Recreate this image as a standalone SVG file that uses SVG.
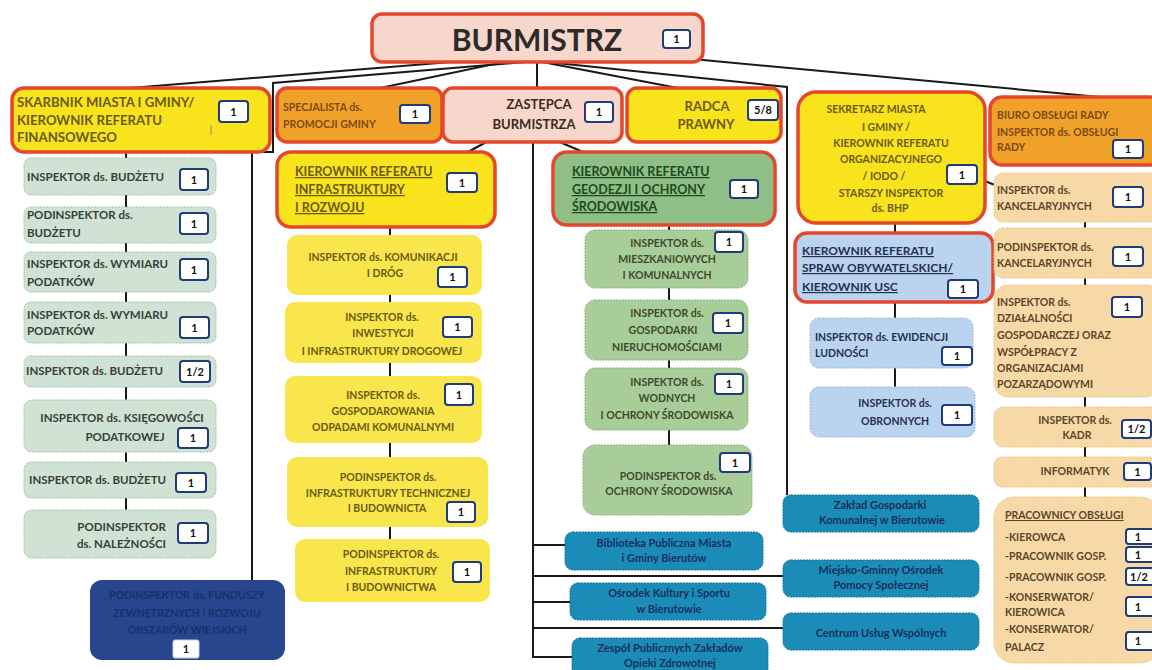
<svg xmlns="http://www.w3.org/2000/svg" width="1152" height="670" viewBox="0 0 1152 670">
<style>
text{font-family:Lato,"Liberation Sans",sans-serif;font-weight:700;font-size:11.5px}
.c{text-anchor:middle}
.e{text-anchor:end}
.u{text-decoration:underline}
.soft{stroke-width:1;stroke-dasharray:2 1}
.pink{fill:#f7d6cc}
.yel{fill:#f9e31c}
.yelc{fill:#f9e64c}
.org{fill:#f0a12a}
.g1{fill:#cfe2d4;stroke:#a9c4b0}
.g2{fill:#8fbf86}
.g3{fill:#a9cd98;stroke:#8fb27e}
.lb{fill:#bad4f0;stroke:#9fbde0}
.tan{fill:#f7d9a7;stroke:#ecc78a}
.teal{fill:#1b8bb7;stroke:#13769e}
.navy{fill:#27468e}
rect.red{stroke:#e4472b;stroke-width:3.5;stroke-dasharray:none}
.t-y{fill:#6b5a14}
.t-g{fill:#3a3f3a}
.t-gd{fill:#1d4a1d}
.t-g3{fill:#3d4a2d}
.t-b{fill:#27304f}
.t-o{fill:#7b4a12}
.t-t{fill:#5a4628}
.t-teal{fill:#17305e;font-size:11px}
.t-nv{fill:#1a2f6b}
.bx{fill:#fff;stroke:#1f3b7a;stroke-width:2}
.bt{fill:#111;text-anchor:middle;font-size:11px}
.ln{stroke:#1a1a1a;stroke-width:2;fill:none}
</style>
<rect width="1152" height="670" fill="#fff"/>
<g id="connectors">
<path class="ln" d="M537 55 L130 88"/>
<path class="ln" d="M537 61 L273 83 L273 152 L252 152 L252 580"/>
<path class="ln" d="M537 55 L380 88"/>
<path class="ln" d="M537 55 L537 88"/>
<path class="ln" d="M537 61 L683 89"/>
<path class="ln" d="M537 61 L787 87 L787 495"/>
<path class="ln" d="M650 55 L1100 97"/>
<path class="ln" d="M490 140 L468 152"/>
<path class="ln" d="M555 140 L583 152"/>
<path class="ln" d="M533 142 L533 657 L572 657"/>
<path class="ln" d="M533 545 L566 545"/>
<path class="ln" d="M533 576 L783 576"/>
<path class="ln" d="M533 602 L570 602"/>
<path class="ln" d="M533 628 L783 628"/>
<path class="ln" d="M126 152 L126 510"/>
<path class="ln" d="M390 227 L390 539"/>
<path class="ln" d="M669 225 L669 445"/>
<path class="ln" d="M895 223 L895 387"/>
<path class="ln" d="M985 181 L997 186"/>
<path class="ln" d="M1085 222 L1085 497"/>
</g>
<g id="burmistrz">
<rect x="372" y="14" width="331" height="48" rx="10" class="pink red"/>
<text x="537" y="51" class="c" style="font-size:30px;fill:#2b2b2b">BURMISTRZ</text>
<rect x="663" y="30" width="27" height="18" rx="3" class="bx"/><text x="676.5" y="43" class="bt">1</text>
</g>
<g id="skarbnik">
<rect x="12" y="88" width="258" height="64" rx="12" class="yel red"/>
<text x="17" y="107" class="t-y" style="font-size:13.2px">SKARBNIK MIASTA I GMINY/</text>
<text x="17" y="125" class="t-y" style="font-size:13.2px">KIEROWNIK REFERATU</text>
<text x="17" y="142" class="t-y" style="font-size:13.2px">FINANSOWEGO</text>
<line x1="211" y1="125" x2="211" y2="135" stroke="#888" stroke-width="1"/>
<rect x="219" y="101" width="29" height="21" rx="3" class="bx"/><text x="233.5" y="116" class="bt">1</text>
</g>
<g id="l1">
<rect x="24" y="158" width="192" height="37" rx="7" class="g1 soft"/>
<text x="27" y="181" class="t-g">INSPEKTOR ds. BUDŻETU</text>
<rect x="180" y="169" width="28" height="21" rx="3" class="bx"/><text x="194" y="184" class="bt">1</text>
</g>
<g id="l2">
<rect x="24" y="207" width="192" height="36" rx="7" class="g1 soft"/>
<text x="27" y="219" class="t-g">PODINSPEKTOR ds.</text>
<text x="27" y="237" class="t-g">BUDŻETU</text>
<rect x="180" y="213" width="28" height="21" rx="3" class="bx"/><text x="194" y="228" class="bt">1</text>
</g>
<g id="l3">
<rect x="24" y="252" width="192" height="40" rx="7" class="g1 soft"/>
<text x="27" y="268" class="t-g">INSPEKTOR ds. WYMIARU</text>
<text x="27" y="286" class="t-g">PODATKÓW</text>
<rect x="180" y="259" width="28" height="21" rx="3" class="bx"/><text x="194" y="274" class="bt">1</text>
</g>
<g id="l4">
<rect x="24" y="302" width="192" height="41" rx="7" class="g1 soft"/>
<text x="27" y="319" class="t-g">INSPEKTOR ds. WYMIARU</text>
<text x="27" y="335" class="t-g">PODATKÓW</text>
<rect x="180" y="317" width="29" height="21" rx="3" class="bx"/><text x="194.5" y="332" class="bt">1</text>
</g>
<g id="l5">
<rect x="24" y="356" width="192" height="31" rx="7" class="g1 soft"/>
<text x="26" y="375" class="t-g">INSPEKTOR ds. BUDŻETU</text>
<rect x="180" y="361" width="30" height="21" rx="3" class="bx"/><text x="195" y="376" class="bt">1/2</text>
</g>
<g id="l6">
<rect x="24" y="400" width="192" height="52" rx="8" class="g1 soft"/>
<text x="122" y="422" class="c t-g">INSPEKTOR ds. KSIĘGOWOŚCI</text>
<text x="125" y="441" class="c t-g">PODATKOWEJ</text>
<rect x="178" y="428" width="30" height="20" rx="3" class="bx"/><text x="193" y="442" class="bt">1</text>
</g>
<g id="l7">
<rect x="24" y="462" width="192" height="36" rx="7" class="g1 soft"/>
<text x="29" y="484" class="t-g">INSPEKTOR ds. BUDŻETU</text>
<rect x="176" y="473" width="30" height="19" rx="3" class="bx"/><text x="191" y="487" class="bt">1</text>
</g>
<g id="l8">
<rect x="24" y="510" width="192" height="48" rx="8" class="g1 soft"/>
<text x="166" y="531" class="e t-g">PODINSPEKTOR</text>
<text x="166" y="548" class="e t-g">ds. NALEŻNOŚCI</text>
<rect x="178" y="523" width="30" height="20" rx="3" class="bx"/><text x="193" y="537" class="bt">1</text>
</g>
<g id="fundusze">
<rect x="90" y="580" width="195" height="80" rx="12" class="navy"/>
<text x="187" y="599" class="c t-nv" style="font-size:10.5px">PODINSPEKTOR ds. FUNDUSZY</text>
<text x="187" y="617" class="c t-nv" style="font-size:10.5px">ZEWNĘTRZNYCH I ROZWOJU</text>
<text x="187" y="634" class="c t-nv" style="font-size:10.5px">OBSZARÓW WIEJSKICH</text>
<rect x="173" y="640" width="26" height="18" rx="2" fill="#fff" stroke="#c8cfe0" stroke-width="1"/><text x="186" y="653" class="bt">1</text>
</g>
<g id="specjalista">
<rect x="277" y="88" width="165" height="54" rx="10" class="org red"/>
<text x="283" y="111" class="t-o" style="font-size:10.5px">SPECJALISTA ds.</text>
<text x="283" y="128" class="t-o" style="font-size:10.5px">PROMOCJI GMINY</text>
<rect x="400" y="105" width="30" height="18" rx="3" class="bx"/><text x="415" y="118" class="bt">1</text>
</g>
<g id="zastepca">
<rect x="443" y="88" width="179" height="54" rx="10" class="pink red"/>
<text x="539" y="109" class="c" style="font-size:13px;fill:#3a2a22">ZASTĘPCA</text>
<text x="534" y="129" class="c" style="font-size:13px;fill:#3a2a22">BURMISTRZA</text>
<rect x="585" y="102" width="28" height="20" rx="3" class="bx"/><text x="599" y="116" class="bt">1</text>
</g>
<g id="radca">
<rect x="627" y="88" width="154" height="54" rx="10" class="yel red"/>
<text x="707" y="111" class="c t-y" style="font-size:13px">RADCA</text>
<text x="706" y="129" class="c t-y" style="font-size:13px">PRAWNY</text>
<rect x="748" y="100" width="30" height="20" rx="3" class="bx"/><text x="763" y="114" class="bt">5/8</text>
</g>
<g id="kier-infra">
<rect x="277" y="152" width="218" height="75" rx="14" class="yel red"/>
<text x="295" y="176" class="u t-y" style="font-size:12.5px">KIEROWNIK REFERATU</text>
<text x="295" y="194" class="u t-y" style="font-size:12.5px">INFRASTRUKTURY</text>
<text x="295" y="212" class="u t-y" style="font-size:12.5px">I ROZWOJU</text>
<rect x="447" y="173" width="30" height="19" rx="3" class="bx"/><text x="462" y="187" class="bt">1</text>
</g>
<g id="i1">
<rect x="287" y="235" width="195" height="60" rx="10" class="yelc"/>
<text x="383" y="261" class="c t-y" style="font-size:10.5px">INSPEKTOR ds. KOMUNIKACJI</text>
<text x="385" y="277" class="c t-y" style="font-size:10.5px">I DRÓG</text>
<rect x="438" y="267" width="29" height="20" rx="3" class="bx"/><text x="452.5" y="281" class="bt">1</text>
</g>
<g id="i2">
<rect x="285" y="302" width="197" height="61" rx="10" class="yelc"/>
<text x="382" y="321" class="c t-y" style="font-size:10.5px">INSPEKTOR ds.</text>
<text x="383" y="337" class="c t-y" style="font-size:10.5px">INWESTYCJI</text>
<text x="382" y="355" class="c t-y" style="font-size:10.5px">I INFRASTRUKTURY DROGOWEJ</text>
<rect x="443" y="317" width="29" height="20" rx="3" class="bx"/><text x="457.5" y="331" class="bt">1</text>
</g>
<g id="i3">
<rect x="285" y="376" width="197" height="67" rx="10" class="yelc"/>
<text x="383" y="399" class="c t-y" style="font-size:10.5px">INSPEKTOR ds.</text>
<text x="383" y="415" class="c t-y" style="font-size:10.5px">GOSPODAROWANIA</text>
<text x="383" y="431" class="c t-y" style="font-size:10.5px">ODPADAMI KOMUNALNYMI</text>
<rect x="445" y="384" width="28" height="21" rx="3" class="bx"/><text x="459" y="399" class="bt">1</text>
</g>
<g id="i4">
<rect x="287" y="457" width="201" height="70" rx="10" class="yelc"/>
<text x="388" y="481" class="c t-y" style="font-size:10.5px">PODINSPEKTOR ds.</text>
<text x="388" y="497" class="c t-y" style="font-size:10.5px">INFRASTRUKTURY TECHNICZNEJ</text>
<text x="387" y="512" class="c t-y" style="font-size:10.5px">I BUDOWNICTA</text>
<rect x="447" y="502" width="28" height="20" rx="3" class="bx"/><text x="461" y="516" class="bt">1</text>
</g>
<g id="i5">
<rect x="295" y="539" width="195" height="63" rx="10" class="yelc"/>
<text x="391" y="558" class="c t-y" style="font-size:10.5px">PODINSPEKTOR ds.</text>
<text x="391" y="575" class="c t-y" style="font-size:10.5px">INFRASTRUKTURY</text>
<text x="391" y="591" class="c t-y" style="font-size:10.5px">I BUDOWNICTWA</text>
<rect x="453" y="562" width="28" height="20" rx="3" class="bx"/><text x="467" y="576" class="bt">1</text>
</g>
<g id="kier-geo">
<rect x="553" y="152" width="222" height="73" rx="14" class="g2 red"/>
<text x="572" y="176" class="u t-gd" style="font-size:12.5px">KIEROWNIK REFERATU</text>
<text x="572" y="194" class="u t-gd" style="font-size:12.5px">GEODEZJI I OCHRONY</text>
<text x="572" y="211" class="u t-gd" style="font-size:12.5px">ŚRODOWISKA</text>
<rect x="730" y="180" width="28" height="18" rx="3" class="bx"/><text x="744" y="193" class="bt">1</text>
</g>
<g id="g1">
<rect x="585" y="230" width="163" height="58" rx="10" class="g3 soft"/>
<text x="667" y="247" class="c t-g3" style="font-size:10.5px">INSPEKTOR ds.</text>
<text x="667" y="263" class="c t-g3" style="font-size:10.5px">MIESZKANIOWYCH</text>
<text x="667" y="279" class="c t-g3" style="font-size:10.5px">I KOMUNALNYCH</text>
<rect x="715" y="232" width="28" height="20" rx="3" class="bx"/><text x="729" y="246" class="bt">1</text>
</g>
<g id="g2">
<rect x="585" y="300" width="163" height="60" rx="10" class="g3 soft"/>
<text x="667" y="317" class="c t-g3" style="font-size:10.5px">INSPEKTOR ds.</text>
<text x="663" y="334" class="c t-g3" style="font-size:10.5px">GOSPODARKI</text>
<text x="667" y="351" class="c t-g3" style="font-size:10.5px">NIERUCHOMOŚCIAMI</text>
<rect x="713" y="313" width="30" height="20" rx="3" class="bx"/><text x="728" y="327" class="bt">1</text>
</g>
<g id="g3n">
<rect x="585" y="368" width="163" height="62" rx="10" class="g3 soft"/>
<text x="667" y="386" class="c t-g3" style="font-size:10.5px">INSPEKTOR ds.</text>
<text x="667" y="402" class="c t-g3" style="font-size:10.5px">WODNYCH</text>
<text x="667" y="419" class="c t-g3" style="font-size:10.5px">I OCHRONY ŚRODOWISKA</text>
<rect x="715" y="374" width="28" height="20" rx="3" class="bx"/><text x="729" y="388" class="bt">1</text>
</g>
<g id="g4">
<rect x="583" y="445" width="169" height="70" rx="12" class="g3 soft"/>
<text x="668" y="480" class="c t-g3" style="font-size:10.5px">PODINSPEKTOR ds.</text>
<text x="669" y="495" class="c t-g3" style="font-size:10.5px">OCHRONY ŚRODOWISKA</text>
<rect x="720" y="453" width="30" height="19" rx="3" class="bx"/><text x="735" y="467" class="bt">1</text>
</g>
<g id="biblioteka">
<rect x="565" y="532" width="198" height="38" rx="8" class="teal soft"/>
<text x="664" y="547" class="c t-teal">Biblioteka Publiczna Miasta</text>
<text x="664" y="562" class="c t-teal">i Gminy Bierutów</text>
</g>
<g id="osrodek">
<rect x="570" y="583" width="196" height="37" rx="8" class="teal soft"/>
<text x="669" y="597" class="c t-teal">Ośrodek Kultury i Sportu</text>
<text x="669" y="613" class="c t-teal">w Bierutowie</text>
</g>
<g id="zespol">
<rect x="572" y="638" width="196" height="40" rx="8" class="teal soft"/>
<text x="670" y="652" class="c t-teal">Zespół Publicznych Zakładów</text>
<text x="670" y="667" class="c t-teal">Opieki Zdrowotnej</text>
</g>
<g id="zaklad">
<rect x="783" y="495" width="196" height="37" rx="8" class="teal soft"/>
<text x="880" y="509" class="c t-teal">Zakład Gospodarki</text>
<text x="882" y="524" class="c t-teal">Komunalnej w Bierutowie</text>
</g>
<g id="mgops">
<rect x="783" y="560" width="196" height="37" rx="8" class="teal soft"/>
<text x="881" y="574" class="c t-teal">Miejsko-Gminny Ośrodek</text>
<text x="881" y="589" class="c t-teal">Pomocy Społecznej</text>
</g>
<g id="centrum">
<rect x="783" y="613" width="196" height="37" rx="8" class="teal soft"/>
<text x="881" y="637" class="c t-teal">Centrum Usług Wspólnych</text>
</g>
<g id="sekretarz">
<rect x="798" y="92" width="187" height="131" rx="18" class="yel red"/>
<text x="876" y="113" class="c t-y" style="font-size:10.5px">SEKRETARZ MIASTA</text>
<text x="886" y="131" class="c t-y" style="font-size:10.5px">I GMINY /</text>
<text x="891" y="147" class="c t-y" style="font-size:10.5px">KIEROWNIK REFERATU</text>
<text x="891" y="163" class="c t-y" style="font-size:10.5px">ORGANIZACYJNEGO</text>
<text x="884" y="180" class="c t-y" style="font-size:10.5px">/ IODO /</text>
<text x="891" y="197" class="c t-y" style="font-size:10.5px">STARSZY INSPEKTOR</text>
<text x="890" y="212" class="c t-y" style="font-size:10.5px">ds. BHP</text>
<rect x="947" y="165" width="30" height="19" rx="3" class="bx"/><text x="962" y="179" class="bt">1</text>
</g>
<g id="kier-usc">
<rect x="795" y="233" width="198" height="69" rx="12" class="lb red"/>
<text x="802" y="255" class="u t-b" style="font-size:12px">KIEROWNIK REFERATU</text>
<text x="802" y="272" class="u t-b" style="font-size:12px">SPRAW OBYWATELSKICH/</text>
<text x="802" y="291" class="u t-b" style="font-size:12px">KIEROWNIK USC</text>
<rect x="948" y="280" width="30" height="18" rx="3" class="bx"/><text x="963" y="293" class="bt">1</text>
</g>
<g id="ewidencja">
<rect x="810" y="318" width="163" height="50" rx="9" class="lb soft"/>
<text x="815" y="341" class="t-b" style="font-size:10.5px">INSPEKTOR ds. EWIDENCJI</text>
<text x="815" y="357" class="t-b" style="font-size:10.5px">LUDNOŚCI</text>
<rect x="942" y="347" width="30" height="18" rx="3" class="bx"/><text x="957" y="360" class="bt">1</text>
</g>
<g id="obronne">
<rect x="810" y="387" width="165" height="50" rx="9" class="lb soft"/>
<text x="895" y="407" class="c t-b" style="font-size:10.5px">INSPEKTOR ds.</text>
<text x="895" y="425" class="c t-b" style="font-size:10.5px">OBRONNYCH</text>
<rect x="942" y="405" width="30" height="20" rx="3" class="bx"/><text x="957" y="419" class="bt">1</text>
</g>
<g id="biuro-rady">
<rect x="990" y="97" width="172" height="68" rx="12" class="org red"/>
<text x="997" y="119" class="t-o" style="font-size:10.5px">BIURO OBSŁUGI RADY</text>
<text x="997" y="136" class="t-o" style="font-size:10.5px">INSPEKTOR ds. OBSŁUGI</text>
<text x="997" y="151" class="t-o" style="font-size:10.5px">RADY</text>
<rect x="1113" y="140" width="30" height="18" rx="3" class="bx"/><text x="1128" y="153" class="bt">1</text>
</g>
<g id="kancel">
<rect x="994" y="173" width="166" height="49" rx="9" class="tan soft"/>
<text x="997" y="194" class="t-t" style="font-size:10.5px">INSPEKTOR ds.</text>
<text x="997" y="210" class="t-t" style="font-size:10.5px">KANCELARYJNYCH</text>
<rect x="1113" y="187" width="30" height="20" rx="3" class="bx"/><text x="1128" y="201" class="bt">1</text>
</g>
<g id="podkancel">
<rect x="994" y="228" width="166" height="50" rx="9" class="tan soft"/>
<text x="997" y="251" class="t-t" style="font-size:10.5px">PODINSPEKTOR ds.</text>
<text x="997" y="267" class="t-t" style="font-size:10.5px">KANCELARYJNYCH</text>
<rect x="1113" y="247" width="30" height="19" rx="3" class="bx"/><text x="1128" y="261" class="bt">1</text>
</g>
<g id="dzialalnosc">
<rect x="994" y="285" width="166" height="112" rx="14" class="tan soft"/>
<text x="997" y="306" class="t-t" style="font-size:10.5px">INSPEKTOR ds.</text>
<text x="997" y="322" class="t-t" style="font-size:10.5px">DZIAŁALNOŚCI</text>
<text x="997" y="339" class="t-t" style="font-size:10.5px">GOSPODARCZEJ ORAZ</text>
<text x="997" y="356" class="t-t" style="font-size:10.5px">WSPÓŁPRACY Z</text>
<text x="997" y="372" class="t-t" style="font-size:10.5px">ORGANIZACJAMI</text>
<text x="997" y="388" class="t-t" style="font-size:10.5px">POZARZĄDOWYMI</text>
<rect x="1112" y="297" width="30" height="20" rx="3" class="bx"/><text x="1127" y="311" class="bt">1</text>
</g>
<g id="kadr">
<rect x="994" y="407" width="166" height="40" rx="9" class="tan soft"/>
<text x="1075" y="424" class="c t-t" style="font-size:10.5px">INSPEKTOR ds.</text>
<text x="1077" y="439" class="c t-t" style="font-size:10.5px">KADR</text>
<rect x="1122" y="420" width="29" height="18" rx="3" class="bx"/><text x="1136.5" y="433" class="bt">1/2</text>
</g>
<g id="informatyk">
<rect x="994" y="457" width="166" height="30" rx="8" class="tan soft"/>
<text x="1075" y="475" class="c t-t" style="font-size:10.5px">INFORMATYK</text>
<rect x="1124" y="463" width="27" height="17" rx="3" class="bx"/><text x="1137.5" y="476" class="bt">1</text>
</g>
<g id="pracownicy">
<rect x="994" y="497" width="166" height="166" rx="20" class="tan soft"/>
<text x="1005" y="519" class="u t-t" style="font-size:10.5px">PRACOWNICY OBSŁUGI</text>
<text x="1005" y="541" class="t-t" style="font-size:10.5px">-KIEROWCA</text>
<text x="1005" y="560" class="t-t" style="font-size:10.5px">-PRACOWNIK GOSP.</text>
<text x="1005" y="581" class="t-t" style="font-size:10.5px">-PRACOWNIK GOSP.</text>
<text x="1005" y="601" class="t-t" style="font-size:10.5px">-KONSERWATOR/</text>
<text x="1005" y="616" class="t-t" style="font-size:10.5px">KIEROWICA</text>
<text x="1005" y="633" class="t-t" style="font-size:10.5px">-KONSERWATOR/</text>
<text x="1005" y="651" class="t-t" style="font-size:10.5px">PALACZ</text>
<rect x="1126" y="529" width="28" height="15" rx="3" class="bx"/><text x="1138" y="541" class="bt">1</text>
<rect x="1126" y="547" width="28" height="15" rx="3" class="bx"/><text x="1138" y="559" class="bt">1</text>
<rect x="1126" y="568" width="28" height="17" rx="3" class="bx"/><text x="1139" y="581" class="bt">1/2</text>
<rect x="1126" y="597" width="28" height="19" rx="3" class="bx"/><text x="1138" y="611" class="bt">1</text>
<rect x="1126" y="632" width="28" height="18" rx="3" class="bx"/><text x="1138" y="645" class="bt">1</text>
</g>
</svg>
